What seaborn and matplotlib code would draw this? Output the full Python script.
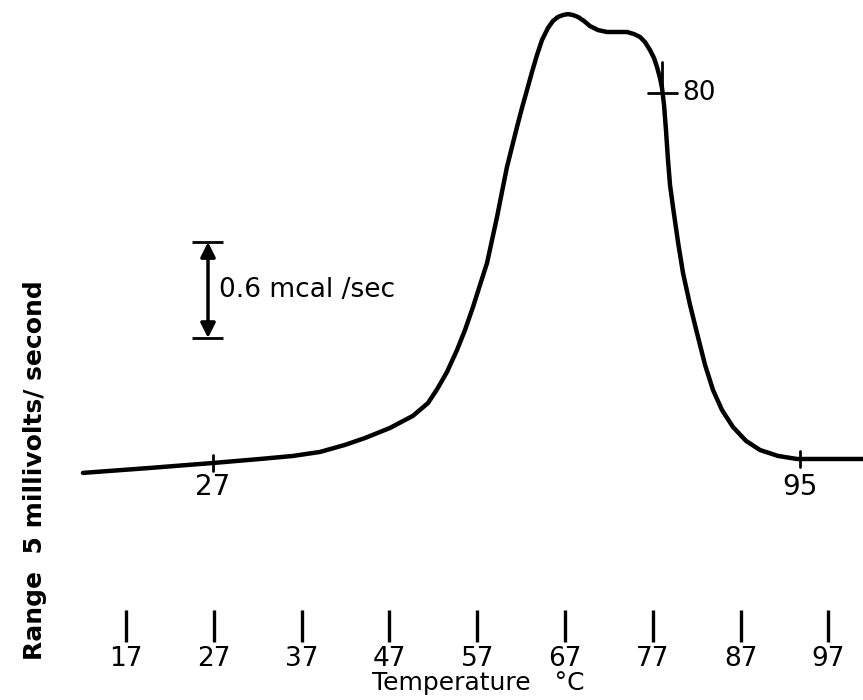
import numpy as np
import pandas as pd
import matplotlib
matplotlib.use("Agg")
import matplotlib.pyplot as plt
import seaborn as sns

# Courbe (temperature en degC, signal en mcal/sec au-dessus de la ligne de base)
temp_c = [12.10, 19.73, 26.91, 32.26, 36.02, 39.10, 41.94, 44.22, 47.07, 49.69,
          51.40, 52.42, 53.56, 54.70, 55.61, 56.52, 57.32, 58.12, 58.69, 59.26,
          59.82, 60.39, 60.96, 61.53, 62.10, 62.67, 63.24, 63.81, 64.38, 65.06,
          65.63, 66.20, 66.77, 67.34, 67.91, 68.48, 69.16, 69.85, 70.76, 71.78,
          72.92, 74.06, 74.86, 75.54, 76.11, 76.68, 77.14, 77.48, 77.82, 78.05,
          78.28, 78.50, 78.73, 78.96, 79.30, 79.87, 80.44, 81.24, 82.03, 82.95,
          83.86, 84.88, 86.13, 87.62, 89.21, 91.26, 93.42, 97.18, 100.94]
signal = [0.013, 0.044, 0.075, 0.100, 0.119, 0.144, 0.188, 0.231, 0.294, 0.370,
          0.450, 0.535, 0.644, 0.781, 0.906, 1.050, 1.188, 1.325, 1.469, 1.613,
          1.769, 1.925, 2.050, 2.175, 2.294, 2.406, 2.519, 2.625, 2.719, 2.794,
          2.838, 2.863, 2.875, 2.881, 2.875, 2.863, 2.838, 2.806, 2.781, 2.769,
          2.769, 2.769, 2.756, 2.738, 2.706, 2.656, 2.606, 2.550, 2.481, 2.419,
          2.313, 2.156, 1.969, 1.813, 1.675, 1.456, 1.263, 1.063, 0.888, 0.688,
          0.531, 0.406, 0.300, 0.213, 0.156, 0.119, 0.100, 0.100, 0.100]

# Graduations de l'axe des temperatures
tick_temps = [17, 27, 37, 47, 57, 67, 77, 87, 97]
tick_labels = ["17", "27", "37", "47", "57", "67", "77", "87", "97"]

# Reperes sur la courbe
mark_labels = ["27", "80", "95"]
mark_x = [26.9, 78.2, 93.8]
mark_y = [0.075, 2.39, 0.10]

# Barre d'echelle
scale_value = 0.6
scale_text = "0.6 mcal /sec"

df = pd.DataFrame({"temp": temp_c, "signal": signal})

sns.set_theme(style="white")
plt.rcParams["font.family"] = ["DejaVu Sans"]
plt.rcParams["text.color"] = "black"
plt.rcParams["axes.labelcolor"] = "black"
plt.rcParams["xtick.color"] = "black"

fig = plt.figure(figsize=(8.63, 7.0), dpi=100)
ax = fig.add_axes([0.0, 90 / 700, 1.0, 610 / 700])

sns.lineplot(data=df, x="temp", y="signal", sort=False, color="black",
             linewidth=3.2, solid_joinstyle="round", solid_capstyle="round", ax=ax)

ax.set_xlim(2.65, 100.94)
ax.set_ylim(-0.844, 2.969)

# reperes sur la courbe
for lab, mx, my in zip(mark_labels, mark_x, mark_y):
    if lab == "80":
        ax.plot([mx - 1.7, mx + 1.6], [my, my], color="black", lw=2)
        ax.plot([mx - 0.1, mx - 0.1], [my, my + 0.19], color="black", lw=2)
        ax.text(mx + 2.1, my, lab, fontsize=19, ha="left", va="center")
    else:
        ax.plot([mx, mx], [my - 0.05, my + 0.05], color="black", lw=2)
        ax.text(mx, -0.075, lab, fontsize=20, ha="center", va="center")

# barre d'echelle 0.6 mcal/sec
bar_x = 26.34
bar_lo = 0.856
bar_hi = bar_lo + scale_value
ax.annotate("", xy=(bar_x, bar_hi), xytext=(bar_x, bar_lo),
            arrowprops=dict(arrowstyle="<|-|>", lw=2.5, color="black",
                            mutation_scale=22, shrinkA=0, shrinkB=0))
ax.hlines([bar_lo, bar_hi], 24.5, 28.05, color="black", lw=2)
ax.text(27.6, (bar_lo + bar_hi) / 2, scale_text, fontsize=19, ha="left", va="center")

# axe des x : traits verticaux sous la courbe
ax.set_xticks(tick_temps)
ax.set_xticklabels(tick_labels)
ax.tick_params(axis="x", bottom=True, direction="out", length=23, width=2.4,
               pad=3, labelsize=19, color="black", labelcolor="black")
ax.set_yticks([])
sns.despine(ax=ax, left=True, bottom=True)

ax.set_xlabel("Temperature   °C", fontsize=18)
ax.xaxis.set_label_coords(0.554, -0.1)
ax.set_ylabel("Range  5 millivolts/ second", fontsize=18, fontweight="semibold")
ax.yaxis.set_label_coords(0.054, 0.23)

fig.savefig("out.png", dpi=100)
